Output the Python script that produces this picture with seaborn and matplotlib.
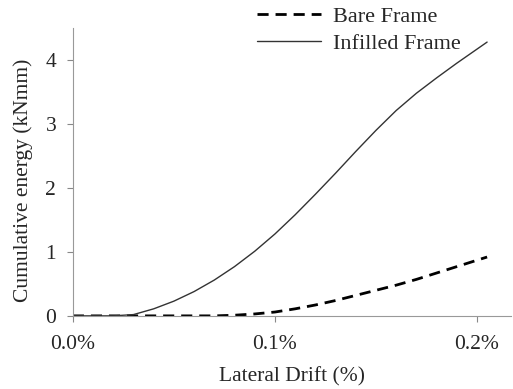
import numpy as np
import pandas as pd
import seaborn as sns
import matplotlib.pyplot as plt
from matplotlib.ticker import FuncFormatter

# lateral drift in %
drift = [0.0, 0.01, 0.02, 0.03, 0.04, 0.05, 0.06, 0.07, 0.08, 0.09, 0.10,
         0.11, 0.12, 0.13, 0.14, 0.15, 0.16, 0.17, 0.18, 0.19, 0.20, 0.205]
bare = [0, 0, 0, 0, 0, 0, 0, 0, 0.01, 0.03, 0.06,
        0.11, 0.17, 0.24, 0.32, 0.40, 0.48, 0.57, 0.67, 0.77, 0.87, 0.92]
infilled = [0, 0, 0, 0.02, 0.11, 0.23, 0.38, 0.56, 0.77, 1.01, 1.28,
            1.58, 1.90, 2.23, 2.57, 2.90, 3.21, 3.48, 3.72, 3.95, 4.17, 4.28]

df = pd.DataFrame({"drift": drift, "bare": bare, "infilled": infilled})

sns.set_style("ticks")
plt.rcParams['font.family'] = ['Liberation Serif', 'DejaVu Serif']

fig = plt.figure(figsize=(5.13, 3.89), dpi=100)
ax = fig.add_axes([0.142, 0.188, 0.854, 0.74])

sns.lineplot(data=df, x="drift", y="bare", ax=ax, color="black",
             linewidth=2.0, linestyle=(0, (4, 2.5)), label="Bare Frame")
sns.lineplot(data=df, x="drift", y="infilled", ax=ax, color="#333333",
             linewidth=1.0, label="Infilled Frame")

ax.set_xlim(0, 0.2168)
ax.set_ylim(0, 4.5)
ax.set_xticks([0.0, 0.1, 0.2])
ax.set_yticks([0, 1, 2, 3, 4])
ax.xaxis.set_major_formatter(FuncFormatter(lambda v, p: "%.1f%%" % v))
ax.set_xlabel("Lateral Drift (%)", fontsize=15.5, labelpad=9)
ax.set_ylabel("Cumulative energy (kNmm)", fontsize=15.5, labelpad=9)
ax.yaxis.label.set_y(0.47)
ax.tick_params(labelsize=15.5, color="#888888", length=4, width=0.8)
ax.tick_params(axis="x", pad=10)
ax.tick_params(axis="y", pad=8)
sns.despine(ax=ax)
for s in ["left", "bottom"]:
    ax.spines[s].set_color("#999999")
    ax.spines[s].set_linewidth(0.8)

ax.legend_.remove()
fig.legend(loc="upper left", bbox_to_anchor=(0.462, 1.035), frameon=False,
           fontsize=16, handlelength=2.9, handletextpad=0.5, labelspacing=0.3)

fig.savefig("out.png", dpi=100)
